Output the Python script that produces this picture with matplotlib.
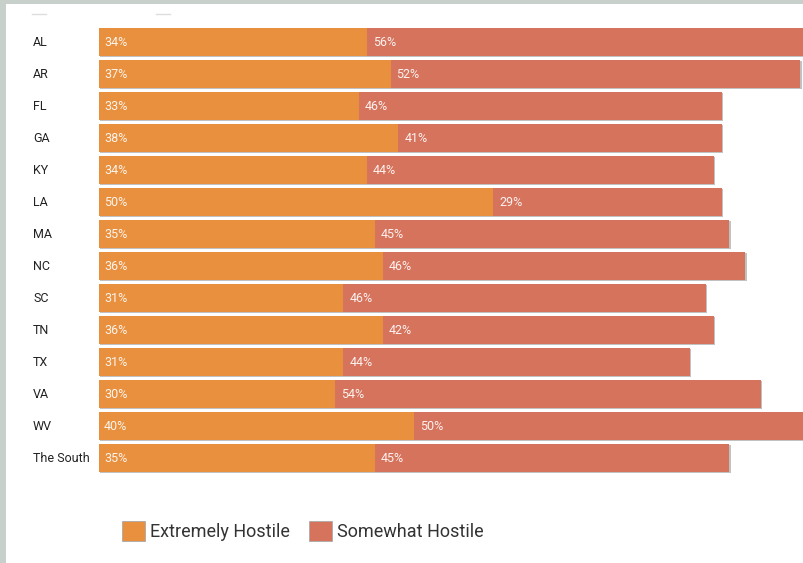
import matplotlib
matplotlib.use("Agg")
import matplotlib.pyplot as plt
import matplotlib.patheffects as pe
from matplotlib.patches import Patch, Rectangle
from matplotlib.lines import Line2D

states = ["AL", "AR", "FL", "GA", "KY", "LA", "MA", "NC", "SC", "TN", "TX", "VA", "WV", "The South"]
extremely = [34, 37, 33, 38, 34, 50, 35, 36, 31, 36, 31, 30, 40, 35]
somewhat = [56, 52, 46, 41, 44, 29, 45, 46, 46, 42, 44, 54, 50, 45]

ORANGE = "#e8903e"
RED = "#d6735d"
FRAME = "#c8d0cc"

plt.rcParams['font.family'] = ['Roboto', 'DejaVu Sans']

W, H = 804, 563
fig = plt.figure(figsize=(W / 100, H / 100), dpi=100)
fig.patch.set_facecolor("white")

# grey frame around the white card
fig.add_artist(Rectangle((0, 0), 6 / W, 1, transform=fig.transFigure, color=FRAME, lw=0))
fig.add_artist(Rectangle((0, 1 - 4 / H), 1, 4 / H, transform=fig.transFigure, color=FRAME, lw=0))

# faint leftover dashes at the top
for x0, x1 in [(32, 46), (156, 170)]:
    fig.add_artist(Line2D([x0 / W, x1 / W], [1 - 14 / H, 1 - 14 / H], transform=fig.transFigure,
                          color="#dddddd", lw=1))

ax = fig.add_axes([99 / W, 1 - 490 / H, (W - 99) / W, 480 / H])
ax.set_xlim(0, (W - 99) / 7.88)
ax.set_ylim(14, -1)
ax.axis("off")

shadow = [pe.SimplePatchShadow(offset=(1, -1), shadow_rgbFace="#999999", alpha=0.6), pe.Normal()]
pos = list(range(len(states)))
b1 = ax.barh(pos, extremely, height=0.875, color=ORANGE, lw=0)
b2 = ax.barh(pos, somewhat, left=extremely, height=0.875, color=RED, lw=0)
for bar in list(b1) + list(b2):
    bar.set_path_effects(shadow)

for i, (e, s) in enumerate(zip(extremely, somewhat)):
    ax.annotate(f"{e}%", xy=(0, i), xytext=(5, 0), textcoords="offset pixels",
                va="center", ha="left", fontsize=9, color="white", alpha=0.9)
    ax.annotate(f"{s}%", xy=(e, i), xytext=(6, 0), textcoords="offset pixels",
                va="center", ha="left", fontsize=9, color="white", alpha=0.9)
    ax.text(-66 / 7.88, i, states[i], va="center", ha="left", fontsize=9, color="#222222",
            clip_on=False)

handles = [Patch(facecolor=ORANGE, edgecolor="#aaaaaa", lw=0.6, label="Extremely Hostile"),
           Patch(facecolor=RED, edgecolor="#aaaaaa", lw=0.6, label="Somewhat Hostile")]
fig.legend(handles=handles, loc="center left", bbox_to_anchor=(106 / W, 1 - 531 / H), ncol=2,
           frameon=False, fontsize=13, handlelength=1.25, handleheight=1.3,
           handletextpad=0.3, columnspacing=1.05, labelcolor="#333333")

fig.savefig("out.png", dpi=100, facecolor="white")
